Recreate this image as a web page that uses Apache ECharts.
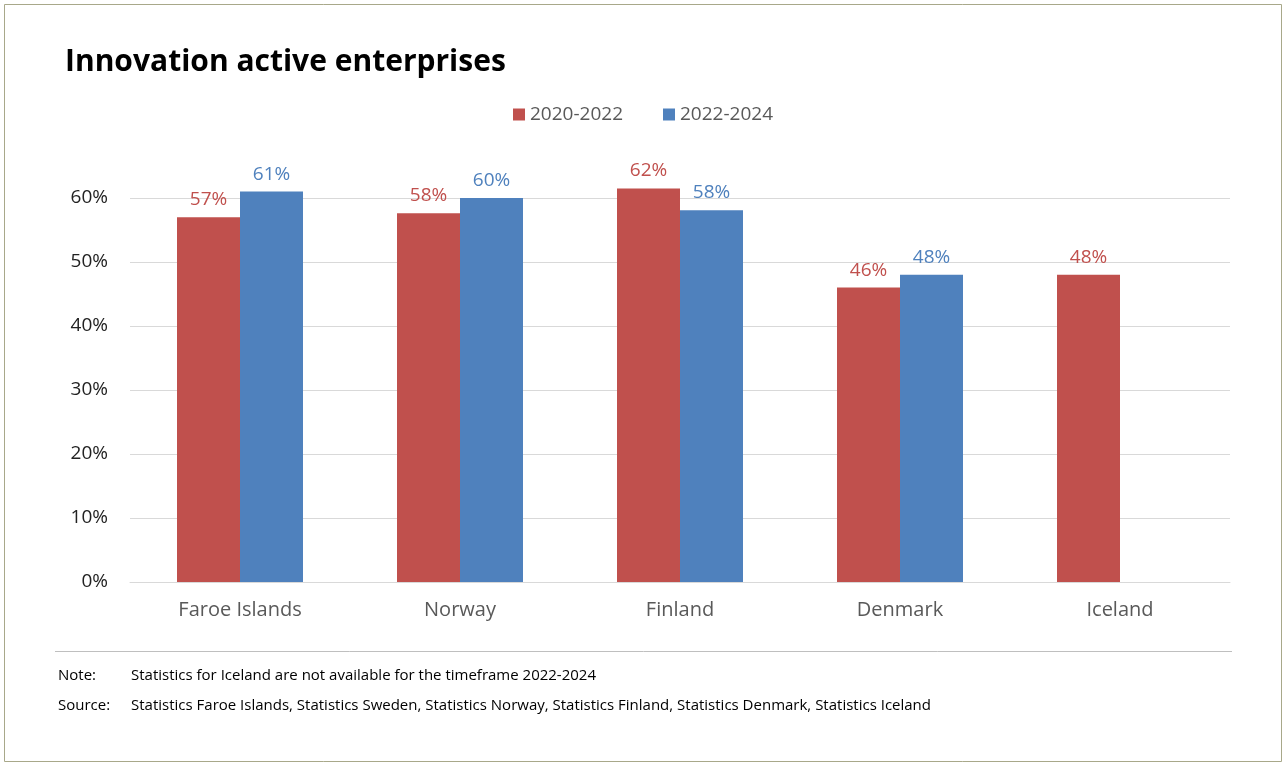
<!DOCTYPE html>
<html>
<head>
<meta charset="utf-8">
<script src="https://cdn.jsdelivr.net/npm/echarts@6/dist/echarts.min.js"></script>
<style>
  html, body { margin: 0; padding: 0; background: #fff; }
  #chart { width: 1286px; height: 767px; }
</style>
</head>
<body>
<div id="chart"></div>
<script>
var categories = ['Faroe Islands', 'Norway', 'Finland', 'Denmark', 'Iceland'];
var values2020 = [0.57, 0.576, 0.615, 0.46, 0.48];
var values2022 = [0.61, 0.60, 0.581, 0.48, null];
var noteText = 'Statistics for Iceland are not available for the timeframe 2022-2024';
var sourceText = 'Statistics Faroe Islands, Statistics Sweden, Statistics Norway, Statistics Finland, Statistics Denmark, Statistics Iceland';

var font = 'Open Sans';
var myChart = echarts.init(document.getElementById('chart'), null, { renderer: 'canvas' });

function pct(p) { return Math.round(p.value * 100) + '%'; }

var option = {
  textStyle: { fontFamily: font },
  title: {
    text: 'Innovation active enterprises',
    left: 60, top: 42,
    textStyle: { fontFamily: font, fontSize: 30, fontWeight: 'bold', color: '#000' }
  },
  legend: {
    top: 100, left: 'center', itemWidth: 12, itemHeight: 12, itemGap: 40,
    icon: 'rect',
    textStyle: { fontSize: 19, color: '#595959' }
  },
  grid: { left: 130, right: 56, top: 198, bottom: 185 },
  xAxis: {
    type: 'category',
    data: categories,
    axisTick: { show: false },
    axisLine: { lineStyle: { color: '#d9d9d9' } },
    axisLabel: { fontSize: 20, color: '#595959', margin: 18 }
  },
  yAxis: {
    type: 'value', min: 0, max: 0.6, interval: 0.1,
    axisLabel: {
      fontSize: 19, color: '#222', margin: 22,
      formatter: function (v) { return Math.round(v * 100) + '%'; }
    },
    splitLine: { lineStyle: { color: '#d9d9d9' } }
  },
  series: [
    {
      name: '2020-2022', type: 'bar', data: values2020, clip: false,
      barWidth: 63, barGap: '0%',
      itemStyle: { color: '#C0504D' },
      label: { show: true, position: 'top', distance: 8, fontSize: 19, color: '#C0504D', formatter: pct }
    },
    {
      name: '2022-2024', type: 'bar', data: values2022, clip: false,
      barWidth: 63,
      itemStyle: { color: '#4F81BD' },
      label: { show: true, position: 'top', distance: 8, fontSize: 19, color: '#4F81BD', formatter: pct }
    }
  ],
  graphic: [
    { type: 'rect', shape: { x: 4.5, y: 4.5, width: 1277, height: 757 },
      style: { fill: 'none', stroke: '#a8a88a', lineWidth: 1 } },
    { type: 'line', shape: { x1: 55, y1: 651.5, x2: 1232, y2: 651.5 },
      style: { stroke: '#bfbfbf', lineWidth: 1 } },
    { type: 'text', left: 58, top: 668, style: { text: 'Note:', font: '15px "Open Sans"', fill: '#000' } },
    { type: 'text', left: 131, top: 668, style: { text: noteText, font: '15px "Open Sans"', fill: '#000' } },
    { type: 'text', left: 58, top: 698, style: { text: 'Source:', font: '15px "Open Sans"', fill: '#000' } },
    { type: 'text', left: 131, top: 698, style: { text: sourceText, font: '15px "Open Sans"', fill: '#000' } }
  ]
};

myChart.setOption(option);
window.addEventListener('resize', myChart.resize);
</script>
</body>
</html>
